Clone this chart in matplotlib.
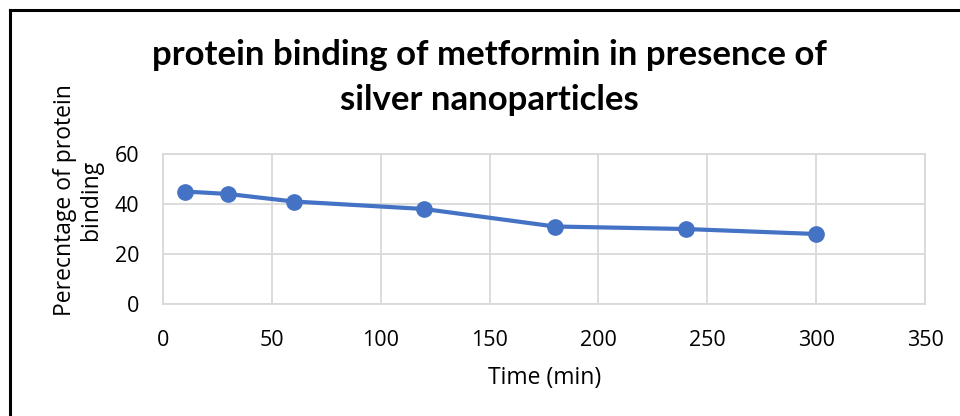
import matplotlib.pyplot as plt
from matplotlib.lines import Line2D

# data
time_min = [10, 30, 60, 120, 180, 240, 300]
binding_pct = [45, 44, 41, 38, 31, 30, 28]
x_ticks = [0, 50, 100, 150, 200, 250, 300, 350]
y_ticks = [0, 20, 40, 60]

plt.rcParams['font.family'] = ['Open Sans', 'DejaVu Sans']

W, H = 960, 416
fig = plt.figure(figsize=(W / 100, H / 100), dpi=100)
ax = fig.add_axes([163 / W, 1 - 304 / H, (925 - 163) / W, (304 - 154) / H])

ax.plot(time_min, binding_pct, color='#4472C4', lw=3, marker='o', ms=11,
        markeredgecolor='#4472C4', zorder=3, clip_on=False)

ax.set_xlim(0, 350)
ax.set_ylim(0, 60)
ax.set_xticks(x_ticks)
ax.set_yticks(y_ticks)
ax.grid(True, color='#d9d9d9', lw=1.3)
ax.set_axisbelow(True)
for s in ax.spines.values():
    s.set_color('#d9d9d9')
    s.set_linewidth(1.3)
ax.tick_params(length=0, labelsize=15.5)
ax.tick_params(axis='y', pad=17)
ax.tick_params(axis='x', pad=19)

# axis titles
fig.text(545 / W, 1 - 378 / H, 'Time (min)', ha='center', va='center', fontsize=16.5)
fig.text(78 / W, 1 - 200 / H, 'Perecntage of protein\nbinding', ha='center', va='center',
         rotation=90, fontsize=16.5, linespacing=1.15)

# chart title, two lines
title_font = dict(ha='center', va='center', fontsize=25, fontweight='bold',
                  family=['Lato', 'DejaVu Sans'])
fig.text(489 / W, 1 - 55 / H, 'protein binding of metformin in presence of', **title_font)
fig.text(489 / W, 1 - 100 / H, 'silver nanoparticles', **title_font)

# chart border (left and top edges visible)
fig.add_artist(Line2D([9.5 / W, 9.5 / W], [0, 1 - 10 / H], color='black', lw=2.2,
                      transform=fig.transFigure))
fig.add_artist(Line2D([9.5 / W, 1], [1 - 10 / H, 1 - 10 / H], color='black', lw=2.2,
                      transform=fig.transFigure))

fig.savefig('out.png', dpi=100)
